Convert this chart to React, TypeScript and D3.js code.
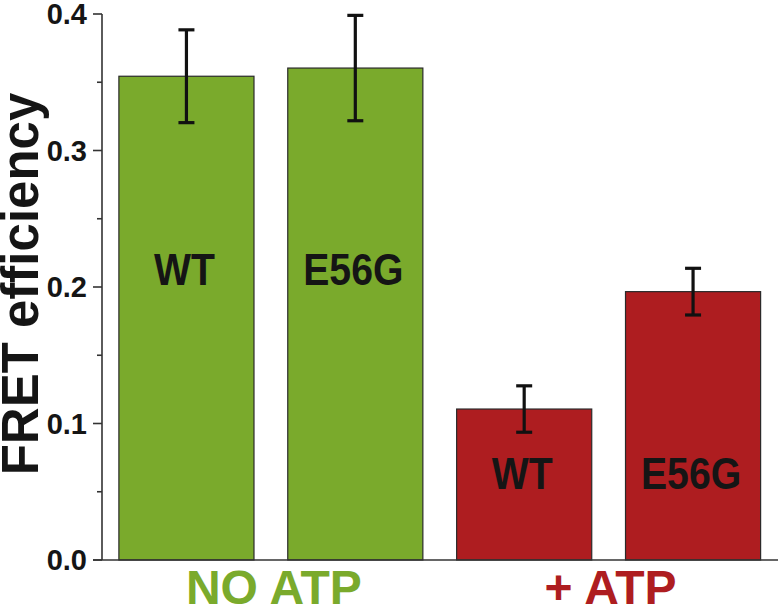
import React from "react";
import * as d3 from "d3";

const categories = ["WT_noATP", "E56G_noATP", "WT_ATP", "E56G_ATP"];
const barLabels = ["WT", "E56G", "WT", "E56G"];
const values = [0.3544, 0.3604, 0.1106, 0.1966];
const errors = [0.034, 0.0386, 0.017, 0.0171];
const groups = ["NO ATP", "+ ATP"];
const groupOf = [0, 0, 1, 1];
const yTicks = [0.0, 0.1, 0.2, 0.3, 0.4];
const yMinorTicks = [0.05, 0.15, 0.25, 0.35];

const W = 778;
const H = 608;
const GREEN = "#7AAA2C";
const RED = "#AE1D20";
const groupColors = [GREEN, RED];
const FONT = "'Liberation Sans', Arial, Helvetica, sans-serif";

export default function App() {
  const y = d3.scaleLinear().domain([0, 0.4]).range([560, 14]);
  const x = d3
    .scaleBand<string>()
    .domain(categories)
    .range([102, 777.5])
    .paddingInner(0.2)
    .paddingOuter(0.1);
  const bw = x.bandwidth();
  const labelY = [285, 285, 489, 489];

  return (
    <svg
      width={W}
      height={H}
      style={{ position: "absolute", left: 0, top: 0, background: "#fff" }}
      fontFamily={FONT}
    >
      {/* bars */}
      {categories.map((c, i) => (
        <rect
          key={c}
          x={x(c)!}
          y={y(values[i])}
          width={bw}
          height={y(0) - y(values[i])}
          fill={groupColors[groupOf[i]]}
          stroke="#2a2a2a"
          strokeWidth={1.2}
        />
      ))}
      {/* error bars */}
      {categories.map((c, i) => {
        const cx = x(c)! + bw / 2;
        const top = y(values[i] + errors[i]);
        const bot = y(values[i] - errors[i]);
        return (
          <g key={"e" + c} stroke="#111" strokeWidth={3.2}>
            <line x1={cx} x2={cx} y1={top} y2={bot} />
            <line x1={cx - 8} x2={cx + 8} y1={top} y2={top} />
            <line x1={cx - 8} x2={cx + 8} y1={bot} y2={bot} />
          </g>
        );
      })}
      {/* bar labels */}
      {categories.map((c, i) => {
        const cx = x(c)! + bw / 2 - 2;
        return (
          <text
            key={"l" + c}
            transform={`translate(${cx},${labelY[i]}) scale(0.89,1)`}
            textAnchor="middle"
            fontSize={44}
            fontWeight="bold"
            fill="#151515"
          >
            {barLabels[i]}
          </text>
        );
      })}
      {/* axes */}
      <line x1={102} x2={102} y1={y(0.4)} y2={y(0)} stroke="#333" strokeWidth={1.6} />
      <line x1={93} x2={778} y1={y(0)} y2={y(0)} stroke="#333" strokeWidth={1.6} />
      {yTicks.map((t) => (
        <g key={"t" + t}>
          <line x1={93} x2={102} y1={y(t)} y2={y(t)} stroke="#333" strokeWidth={1.6} />
          <text
            x={87}
            y={y(t) + 10}
            textAnchor="end"
            fontSize={29}
            fontWeight="bold"
            fill="#151515"
          >
            {d3.format(".1f")(t)}
          </text>
        </g>
      ))}
      {yMinorTicks.map((t) => (
        <line key={"m" + t} x1={97} x2={102} y1={y(t)} y2={y(t)} stroke="#333" strokeWidth={1.6} />
      ))}
      {/* y title */}
      <text
        transform={`translate(38,${284}) rotate(-90)`}
        textAnchor="middle"
        fontSize={51}
        fontWeight="bold"
        fill="#151515"
      >
        FRET efficiency
      </text>
      {/* group labels */}
      {groups.map((g, gi) => {
        const idx = categories.filter((_, i) => groupOf[i] === gi);
        const x0 = x(idx[0])!;
        const x1 = x(idx[idx.length - 1])! + bw;
        return (
          <text
            key={g}
            x={(x0 + x1) / 2 + (gi === 0 ? 3 : 2)}
            y={604}
            textAnchor="middle"
            fontSize={48}
            fontWeight="bold"
            fill={groupColors[gi]}
          >
            {g}
          </text>
        );
      })}
    </svg>
  );
}
